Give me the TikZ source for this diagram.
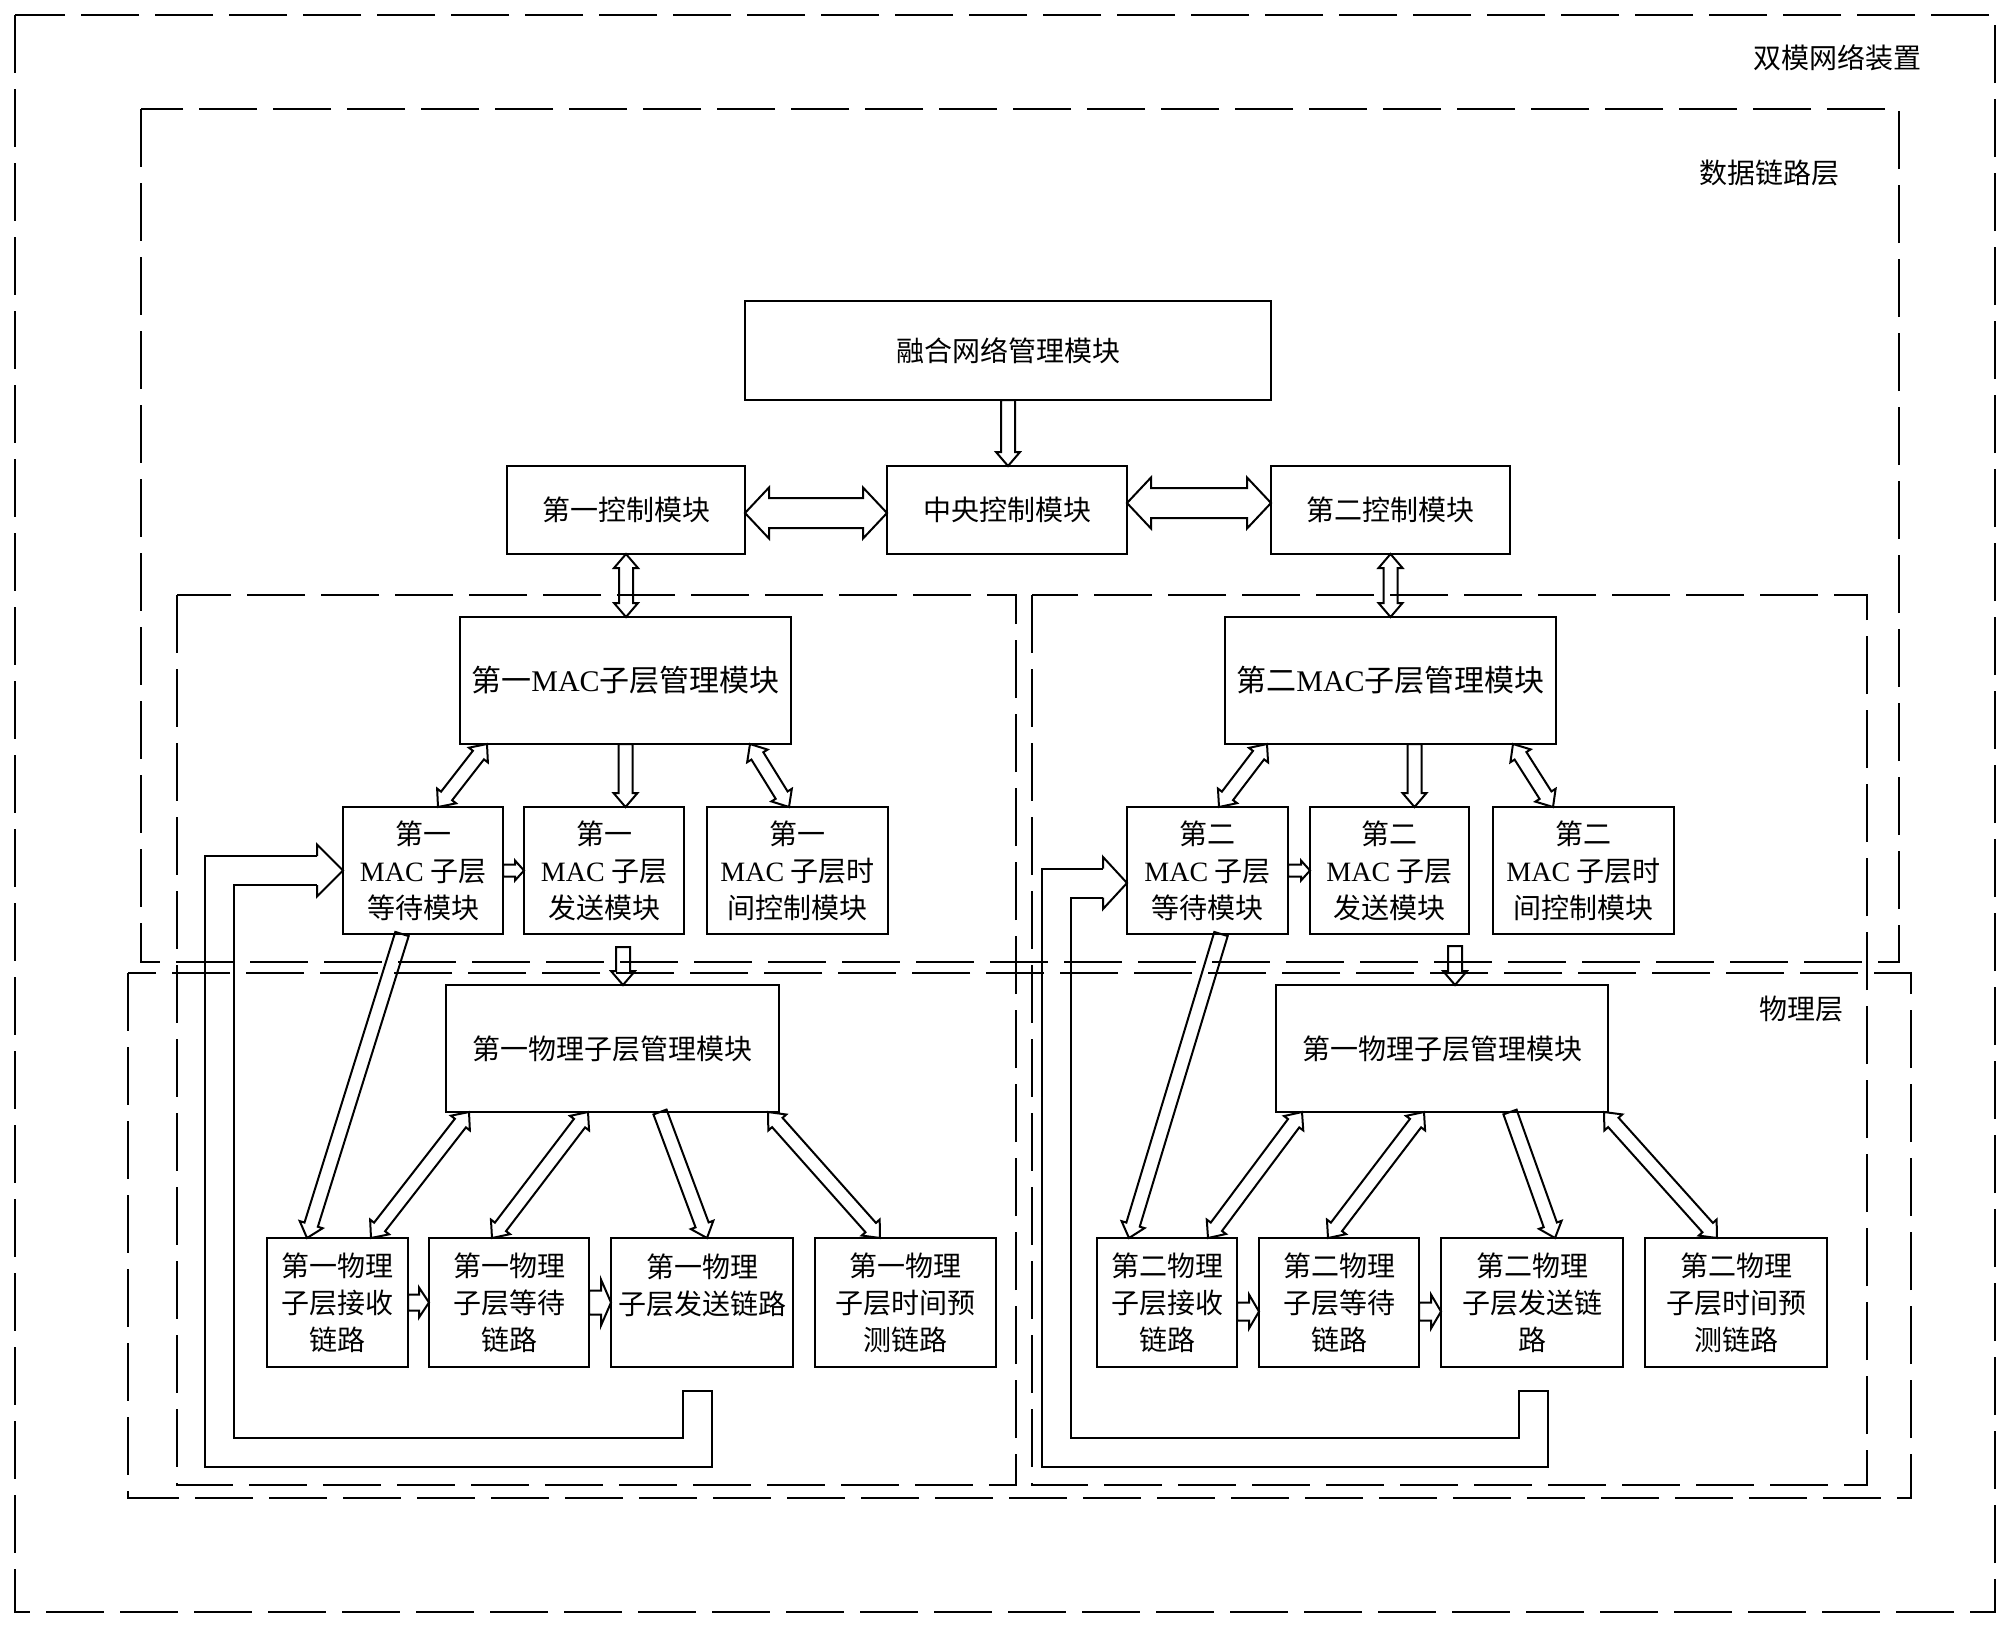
\documentclass[tikz,border=0pt]{standalone}
\usepackage{fontspec}
\setmainfont{Noto Sans CJK SC}
\newfontfamily\latf{Liberation Serif}
\usetikzlibrary{positioning,calc}
\newcommand\MACtxt{{\latf MAC}}
% hollow block arrows
\def\shaftw{3.5pt}\def\headw{6pt}\def\headl{7pt}
\newcommand\fatarrow[2]{%
  \coordinate (hb) at ($(#2)!\headl!(#1)$);
  \draw[fat] ($(#1)!\shaftw!90:(#2)$) -- ($(hb)!\shaftw!90:(#2)$) -- ($(hb)!\headw!90:(#2)$) -- (#2)
    -- ($(hb)!\headw!-90:(#2)$) -- ($(hb)!\shaftw!-90:(#2)$) -- ($(#1)!\shaftw!-90:(#2)$) -- cycle;}
\newcommand\fatdarrow[2]{%
  \coordinate (ha) at ($(#1)!\headl!(#2)$);
  \coordinate (hb) at ($(#2)!\headl!(#1)$);
  \draw[fat] (#1) -- ($(ha)!\headw!90:(#2)$) -- ($(ha)!\shaftw!90:(#2)$) -- ($(hb)!\shaftw!90:(#2)$)
    -- ($(hb)!\headw!90:(#2)$) -- (#2) -- ($(hb)!\headw!-90:(#2)$) -- ($(hb)!\shaftw!-90:(#2)$)
    -- ($(ha)!\shaftw!-90:(#2)$) -- ($(ha)!\headw!-90:(#2)$) -- cycle;}
\newcommand\pipehead[2]{%
  \draw[fat] ($(#1)!7.25pt!90:(#2)$) -- ($(#1)!13pt!90:(#2)$) -- (#2)
    -- ($(#1)!13pt!-90:(#2)$) -- ($(#1)!7.25pt!-90:(#2)$);}
\begin{document}
\begin{tikzpicture}[x=0.5pt,y=-0.5pt,
box/.style={draw,line width=1.1pt,anchor=north west,align=center,inner sep=2pt,outer sep=0pt,
  font=\fontsize{14pt}{18.5pt}\selectfont},
big/.style={font=\fontsize{15pt}{18.5pt}\selectfont},
lbl/.style={font=\fontsize{14pt}{17pt}\selectfont},
layer/.style={line width=1.3pt,dash pattern=on 29pt off 8pt},
fat/.style={line width=1pt,line join=miter},
pipe/.style={double,double distance=13.5pt,line width=1pt}]
\useasboundingbox (0,0) rectangle (2011,1628);

% control level
\node[box,minimum width=263pt,minimum height=49.5pt] (fuse) at (745,301) {融合网络管理模块};
\node[box,minimum width=119pt,minimum height=44pt] (ctrl1) at (507,466) {第一控制模块};
\node[box,minimum width=120pt,minimum height=44pt,right=71pt of ctrl1] (central) {中央控制模块};
\node[box,minimum width=119.5pt,minimum height=44pt,right=72pt of central] (ctrl2) {第二控制模块};

% MAC sublayer
\node[box,big,minimum width=165.5pt,minimum height=63.5pt] (mac1) at (460,617) {第一\MACtxt 子层管理模块};
\node[box,minimum width=80pt,minimum height=63.5pt] (wait1) at (343,807) {第一\\\MACtxt\ 子层\\等待模块};
\node[box,minimum width=80pt,minimum height=63.5pt,right=10.5pt of wait1] (send1) {第一\\\MACtxt\ 子层\\发送模块};
\node[box,minimum width=90.5pt,minimum height=63.5pt,right=11.5pt of send1] (time1) {第一\\\MACtxt\ 子层时\\间控制模块};
\node[box,big,minimum width=165.5pt,minimum height=63.5pt] (mac2) at (1225,617) {第二\MACtxt 子层管理模块};
\node[box,minimum width=80.5pt,minimum height=63.5pt] (wait2) at (1127,807) {第二\\\MACtxt\ 子层\\等待模块};
\node[box,minimum width=79.5pt,minimum height=63.5pt,right=11pt of wait2] (send2) {第二\\\MACtxt\ 子层\\发送模块};
\node[box,minimum width=90.5pt,minimum height=63.5pt,right=12pt of send2] (time2) {第二\\\MACtxt\ 子层时\\间控制模块};

% physical sublayer
\node[box,minimum width=166.5pt,minimum height=63.5pt] (phy1) at (446,985) {第一物理子层管理模块};
\node[box,minimum width=70.5pt,minimum height=64.5pt] (rx1) at (267,1238) {第一物理\\子层接收\\链路};
\node[box,minimum width=80pt,minimum height=64.5pt,right=10.5pt of rx1] (wt1) {第一物理\\子层等待\\链路};
\node[box,minimum width=91pt,minimum height=64.5pt,right=11pt of wt1] (tx1) {第一物理\\子层发送链路\\\mbox{}};
\node[box,minimum width=90.5pt,minimum height=64.5pt,right=11pt of tx1] (tp1) {第一物理\\子层时间预\\测链路};
\node[box,minimum width=166pt,minimum height=63.5pt] (phy2) at (1276,985) {第一物理子层管理模块};
\node[box,minimum width=70pt,minimum height=64.5pt] (rx2) at (1097,1238) {第二物理\\子层接收\\链路};
\node[box,minimum width=80pt,minimum height=64.5pt,right=11pt of rx2] (wt2) {第二物理\\子层等待\\链路};
\node[box,minimum width=91pt,minimum height=64.5pt,right=11pt of wt2] (tx2) {第二物理\\子层发送链\\路};
\node[box,minimum width=91pt,minimum height=64.5pt,right=11pt of tx2] (tp2) {第二物理\\子层时间预\\测链路};

% arrow ends
\coordinate (c1r) at ($(ctrl1.east)+(0,3)$);
\coordinate (ccl) at ($(central.west)+(0,3)$);
\coordinate (ccr) at ($(central.east)+(0,-7)$);
\coordinate (c2l) at ($(ctrl2.west)+(0,-7)$);
\coordinate (f0) at (fuse.south);
\coordinate (f1) at (fuse.south |- central.north);
\coordinate (k1) at (ctrl1.south);
\coordinate (k1m) at (ctrl1.south |- mac1.north);
\coordinate (k2) at (ctrl2.south);
\coordinate (k2m) at (ctrl2.south |- mac2.north);
\coordinate (m1a) at ($(mac1.south west)+(27,0)$);
\coordinate (w1t) at ($(wait1.north west)+(95,0)$);
\coordinate (m1b) at (mac1.south);
\coordinate (s1t) at (mac1.south |- send1.north);
\coordinate (m1c) at ($(mac1.south east)+(-41,0)$);
\coordinate (t1t) at ($(time1.north west)+(82,0)$);
\coordinate (m2a) at ($(mac2.south west)+(42,0)$);
\coordinate (w2t) at ($(wait2.north west)+(92,0)$);
\coordinate (m2b) at ($(mac2.south)+(24,0)$);
\coordinate (s2t) at (m2b |- send2.north);
\coordinate (m2c) at ($(mac2.south east)+(-43,0)$);
\coordinate (t2t) at ($(time2.north west)+(60,0)$);
\coordinate (s1b) at ($(send1.south)+(19,13)$);
\coordinate (p1t) at (s1b |- phy1.north);
\coordinate (s2b) at ($(send2.south)+(65.5,12)$);
\coordinate (p2t) at (s2b |- phy2.north);
\coordinate (w1b) at ($(wait1.south west)+(59,0)$);
\coordinate (r1t) at ($(rx1.north west)+(40,0)$);
\coordinate (w2b) at ($(wait2.south west)+(94,0)$);
\coordinate (r2t) at ($(rx2.north west)+(32,0)$);
\coordinate (p1a) at ($(phy1.south west)+(23,0)$);
\coordinate (r1u) at ($(rx1.north west)+(104,0)$);
\coordinate (p1b) at ($(phy1.south west)+(142,0)$);
\coordinate (wt1u) at ($(wt1.north west)+(63,0)$);
\coordinate (p1c) at ($(phy1.south west)+(214,0)$);
\coordinate (tx1u) at ($(tx1.north west)+(96,0)$);
\coordinate (p1d) at ($(phy1.south west)+(322,0)$);
\coordinate (tp1u) at ($(tp1.north west)+(65,0)$);
\coordinate (p2a) at ($(phy2.south west)+(26,0)$);
\coordinate (r2u) at ($(rx2.north west)+(111,0)$);
\coordinate (p2b) at ($(phy2.south west)+(148,0)$);
\coordinate (wt2u) at ($(wt2.north west)+(69,0)$);
\coordinate (p2c) at ($(phy2.south west)+(234,0)$);
\coordinate (tx2u) at ($(tx2.north west)+(114,0)$);
\coordinate (p2d) at ($(phy2.south west)+(328,0)$);
\coordinate (tp2u) at ($(tp2.north west)+(72,0)$);

% block arrows
\begin{scope}
\def\shaftw{7.5pt}\def\headw{12.75pt}\def\headl{12pt}
\fatdarrow{c1r}{ccl}
\fatdarrow{ccr}{c2l}
\end{scope}
\fatarrow{f0}{f1}
\fatdarrow{k1}{k1m}
\fatdarrow{k2}{k2m}
\fatdarrow{m1a}{w1t}
\fatarrow{m1b}{s1t}
\fatdarrow{m1c}{t1t}
\fatdarrow{m2a}{w2t}
\fatarrow{m2b}{s2t}
\fatdarrow{m2c}{t2t}
\fatarrow{s1b}{p1t}
\fatarrow{s2b}{p2t}
\fatarrow{w1b}{r1t}
\fatarrow{w2b}{r2t}
\fatdarrow{p1a}{r1u}
\fatdarrow{p1b}{wt1u}
\fatarrow{p1c}{tx1u}
\fatdarrow{p1d}{tp1u}
\fatdarrow{p2a}{r2u}
\fatdarrow{p2b}{wt2u}
\fatarrow{p2c}{tx2u}
\fatdarrow{p2d}{tp2u}
\begin{scope}
\def\shaftw{3pt}\def\headw{5pt}\def\headl{4.5pt}
\fatarrow{wait1.east}{send1.west}
\fatarrow{wait2.east}{send2.west}
\end{scope}
\begin{scope}
\def\shaftw{4pt}\def\headw{7.5pt}\def\headl{5pt}
\fatarrow{rx1.east}{wt1.west}
\end{scope}
\begin{scope}
\def\shaftw{6pt}\def\headw{11.5pt}\def\headl{5pt}
\fatarrow{wt1.east}{tx1.west}
\end{scope}
\begin{scope}
\def\shaftw{4.5pt}\def\headw{8.5pt}\def\headl{5pt}
\coordinate (rw2a) at ($(rx2.east)+(0,9)$);
\coordinate (rw2b) at ($(wt2.west)+(0,9)$);
\coordinate (wt2a) at ($(wt2.east)+(0,9)$);
\coordinate (wt2b) at ($(tx2.west)+(0,9)$);
\fatarrow{rw2a}{rw2b}
\fatarrow{wt2a}{wt2b}
\end{scope}

% feedback pipes back to the MAC wait modules
\coordinate (fb1) at ($(tx1.south west)+(86.5,24)$);
\coordinate (hd1) at ($(wait1.west)+(-26,0)$);
\draw[pipe] (fb1) |- (219.5,1452) |- (hd1);
\draw[line width=1pt] ($(fb1)+(-15.5,0)$) -- ($(fb1)+(15.5,0)$);
\pipehead{hd1}{wait1.west}
\coordinate (fb2) at ($(tx2.south west)+(92.5,24)$);
\coordinate (tip2) at ($(wait2.west)+(0,12.5)$);
\coordinate (hd2) at ($(tip2)+(-24,0)$);
\draw[pipe] (fb2) |- (1056,1452) |- (hd2);
\draw[line width=1pt] ($(fb2)+(-15.5,0)$) -- ($(fb2)+(15.5,0)$);
\pipehead{hd2}{tip2}

% layers
\draw[layer] (15,15) rectangle (1995,1612);
\draw[layer] (141,109) rectangle (1899,962);
\draw[layer] (128,973) rectangle (1911,1498);
\draw[layer] (177,595) rectangle (1016,1485);
\draw[layer] (1032,595) rectangle (1867,1485);
\node[lbl] (dev) at (1837,58) {双模网络装置};
\node[lbl] (dll) at (1769,173) {数据链路层};
\node[lbl] (phl) at (1801,1009) {物理层};
\end{tikzpicture}
\end{document}
